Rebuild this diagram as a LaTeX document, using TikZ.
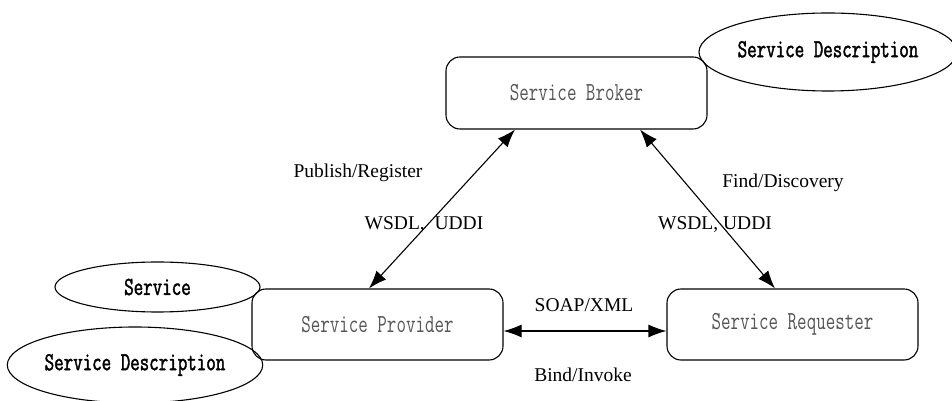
\documentclass[tikz,border=0pt]{standalone}
\usepackage{fontspec}
\setmainfont{Liberation Serif}
\newfontfamily\boxfont[FakeStretch=0.71]{Latin Modern Mono}
\newfontfamily\docfont[FakeStretch=0.71,FakeBold=1.6]{Latin Modern Mono}
\usetikzlibrary{arrows.meta,shapes.geometric}
\definecolor{RoleGray}{HTML}{555555}

\begin{document}
\begin{tikzpicture}[x=1pt,y=1pt,
    role/.style={draw,line width=1.1pt,rounded corners=14pt,minimum width=251pt,minimum height=71pt,
                 font=\boxfont\fontsize{26}{28}\selectfont,text=RoleGray},
    doc/.style={draw,ellipse,line width=1.1pt,inner sep=0pt,
                font=\docfont\fontsize{26}{28}\selectfont},
    lbl/.style={font=\fontsize{19.5}{22}\selectfont,inner sep=0pt},
    link/.style={{Latex[length=18pt,width=13pt]}-{Latex[length=18pt,width=13pt]},line width=1.1pt}]
    \useasboundingbox (0,0) rectangle (952,401);
    \node[role,minimum width=261pt,minimum height=72pt] (broker) at (576.5,308) {Service Broker};
    \node[role] (provider) at (377.5,76.5) {Service Provider};
    \node[role] (requester) at (792.5,76.5) {Service Requester};
    \node[doc,minimum width=258pt,minimum height=78pt] (brokerdesc) at (828,349) {Service Description};
    \node[doc,minimum width=205pt,minimum height=50pt] (service) at (157.5,114) {Service};
    \node[doc,minimum width=250pt,minimum height=76pt] (providerdesc) at (135,36) {Service Description};
    \draw[link] ([xshift=-8.5pt]provider.north) -- ([xshift=-61.5pt]broker.south);
    \draw[link] ([xshift=63.5pt]broker.south) -- ([xshift=-17.5pt]requester.north);
    \draw[link] ([yshift=-6.5pt]provider.east) -- ([yshift=-6.5pt]requester.west);
    \node[lbl] (publish) at (358,228) {Publish/Register};
    \node[lbl] (wsdlpub) at (424,176) {WSDL,\ \ UDDI};
    \node[lbl] (find) at (783,218) {Find/Discovery};
    \node[lbl] (wsdlfind) at (715,176) {WSDL, UDDI};
    \node[lbl] (soap) at (584,96) {SOAP/XML};
    \node[lbl] (bind) at (583,26) {Bind/Invoke};
  \end{tikzpicture}
\end{document}
